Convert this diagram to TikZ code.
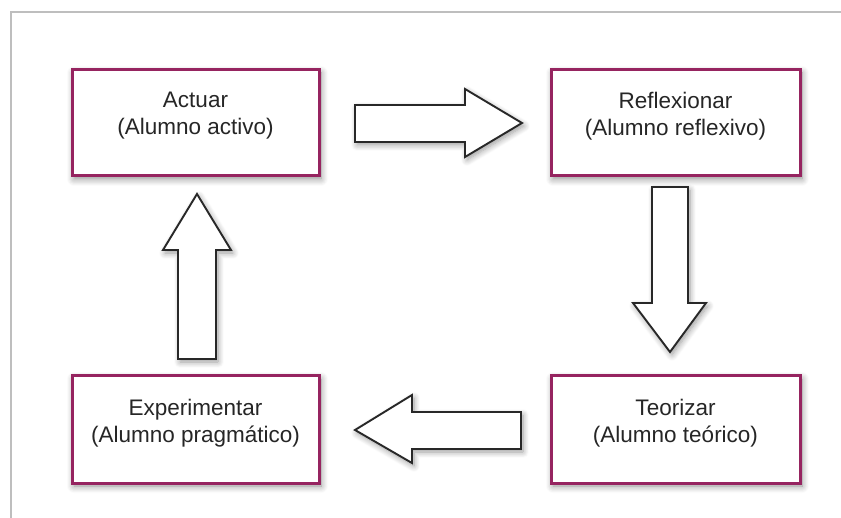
\documentclass[tikz,border=0pt]{standalone}
\usepackage{fontspec}
\setmainfont{Liberation Sans}
\usetikzlibrary{shadows.blur}
\definecolor{boxpurple}{RGB}{150,36,96}
\definecolor{framegray}{RGB}{190,190,190}
\definecolor{arrowline}{RGB}{40,40,40}
\tikzset{
  stagebox/.style={draw=boxpurple, line width=3pt, fill=white,
    blur shadow={shadow xshift=2pt, shadow yshift=-3pt, shadow blur steps=8, shadow blur radius=7pt, shadow opacity=45}},
  stagetext/.style={align=center, font=\fontsize{22.5pt}{27pt}\selectfont, text=black!85},
  blockarrow/.style={draw=arrowline, line width=1.9pt, fill=white, line join=miter,
    blur shadow={shadow xshift=2pt, shadow yshift=-3pt, shadow blur steps=8, shadow blur radius=6pt, shadow opacity=40}}
}
\begin{document}
\begin{tikzpicture}[x=1pt,y=-1pt]
\useasboundingbox (0,0) rectangle (841,518);
% frame
\draw[framegray, line width=1.2pt] (11,518) -- (11,12) -- (841,12);
% boxes
\draw[stagebox] (72,70) rectangle (319,176);
\draw[stagebox] (551,70) rectangle (800,176);
\draw[stagebox] (72,376) rectangle (319,483);
\draw[stagebox] (551,376) rectangle (800,483);
\node[stagetext] (tactuar) at (195.5,116) {Actuar\\(Alumno activo)};
\node[stagetext] (treflex) at (675.5,116) {Reflexionar\\(Alumno reflexivo)};
\node[stagetext] (texper) at (195.5,423) {Experimentar\\(Alumno pragmático)};
\node[stagetext] (tteor) at (675.5,423) {Teorizar\\(Alumno teórico)};
% block arrows
\draw[blockarrow] (355,105) -- (465,105) -- (465,89) -- (522,123) -- (465,157) -- (465,142) -- (355,142) -- cycle;
\draw[blockarrow] (652,187) -- (688,187) -- (688,303) -- (706,303) -- (670,352) -- (633,303) -- (652,303) -- cycle;
\draw[blockarrow] (521,412) -- (412,412) -- (412,395) -- (355,430) -- (412,463) -- (412,449) -- (521,449) -- cycle;
\draw[blockarrow] (178,359) -- (178,250) -- (163,250) -- (197,194) -- (231,250) -- (216,250) -- (216,359) -- cycle;
\end{tikzpicture}
\end{document}
